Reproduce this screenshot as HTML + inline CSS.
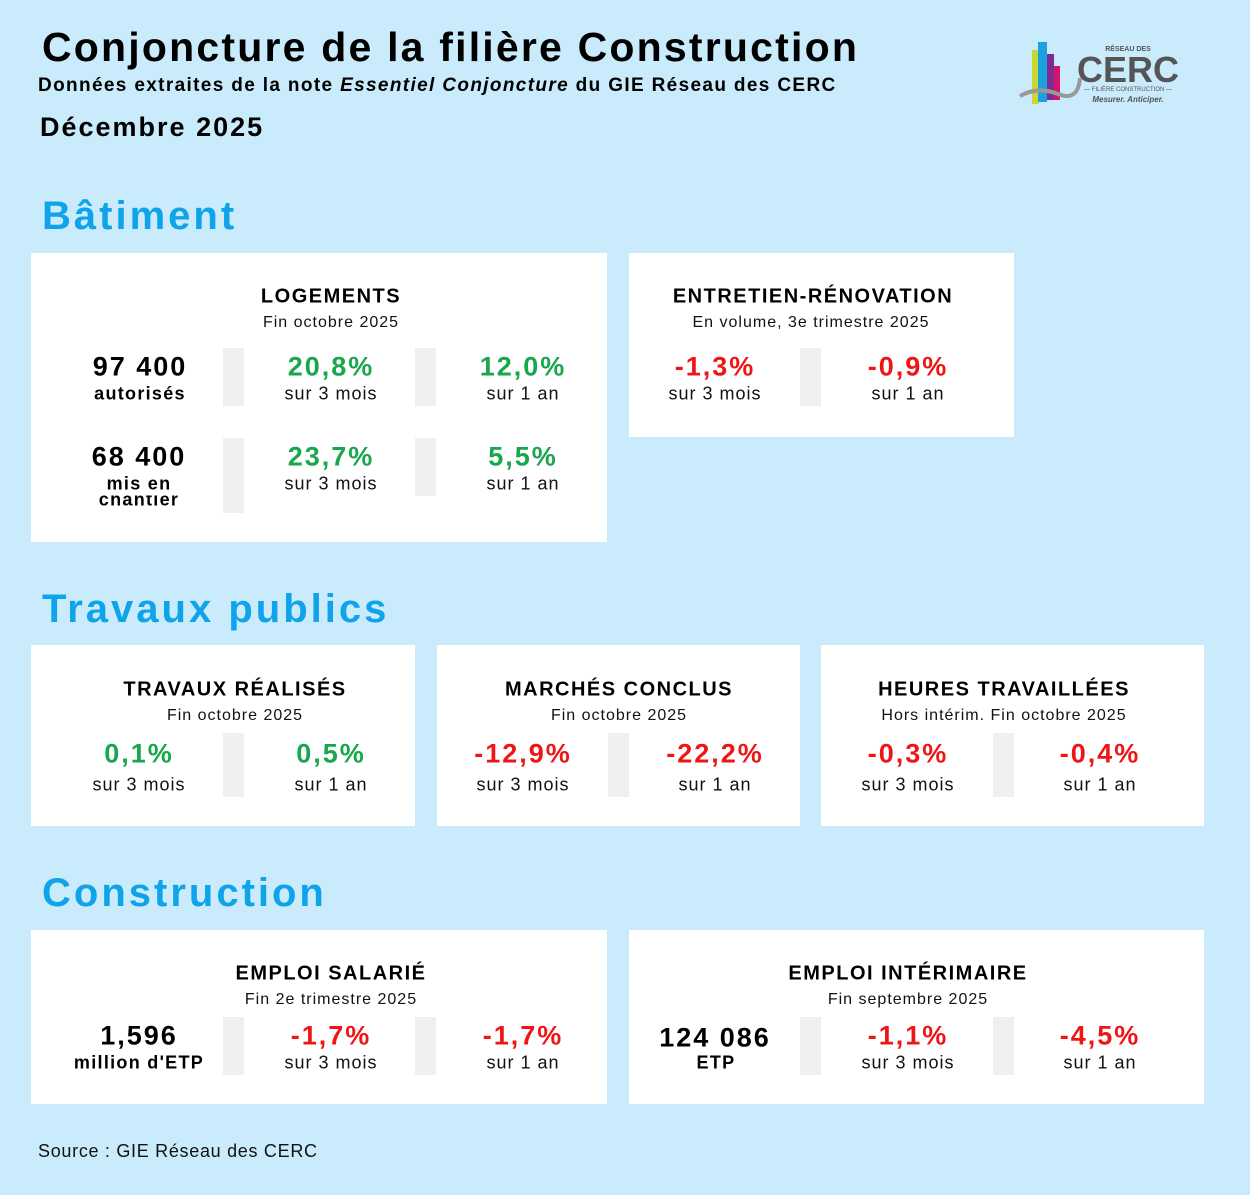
<!DOCTYPE html><html><head><meta charset="utf-8"><style>
body{margin:0;width:1250px;height:1195px;background:#c9ebfb;font-family:"Liberation Sans",sans-serif;position:relative;overflow:hidden}
.a{position:absolute;white-space:nowrap}
.t{position:absolute;white-space:nowrap;transform:translate(-50%,-50%);text-align:center}
.c{position:absolute;background:#fff}
.g{position:absolute;background:#efefef;width:21px}
.h{font-weight:bold;font-size:20px;letter-spacing:1.5px;color:#000}
.s{font-size:16px;color:#111;letter-spacing:1px}
.v{font-weight:bold;font-size:27px;letter-spacing:2px}
.l{font-size:18px;color:#111;letter-spacing:1px}
.k{font-weight:bold;font-size:18px;color:#000;letter-spacing:1.3px}
.gr{color:#19a64d}.rd{color:#f01515}.bk{color:#000}
.sec{position:absolute;left:42px;font-weight:bold;font-size:40px;color:#0fa3ea;letter-spacing:3px}
</style></head><body>
<div class="a" style="left:42px;top:24px;font-weight:bold;font-size:41px;letter-spacing:2.2px">Conjoncture de la filière Construction</div>
<div class="a" style="left:38px;top:75px;font-weight:bold;font-size:19px;letter-spacing:1.35px">Données extraites de la note <i>Essentiel Conjoncture</i> du GIE Réseau des CERC</div>
<div class="a" style="left:40px;top:112px;font-weight:bold;font-size:27px;letter-spacing:2px">Décembre 2025</div>
<svg class="a" style="left:1018px;top:38px" width="160" height="72">
<rect x="14" y="12" width="7" height="54" fill="#c8d82e"/><rect x="20" y="4" width="9" height="60" fill="#1ba0e0"/><rect x="29" y="16" width="7" height="46" fill="#7e2d8f"/><rect x="36" y="28" width="6" height="34" fill="#d3136d"/>
<path d="M2 58 Q20 48 40 56 T62 40" stroke="#999" stroke-width="4" fill="none"/>
<text x="110" y="13" font-size="7" font-weight="bold" fill="#555" text-anchor="middle" font-family="Liberation Sans">RÉSEAU DES</text>
<text x="110" y="44" font-size="36" font-weight="bold" fill="#555" text-anchor="middle" font-family="Liberation Sans">CERC</text>
<text x="110" y="53" font-size="6" fill="#555" text-anchor="middle" font-family="Liberation Sans">— FILIÈRE CONSTRUCTION —</text>
<text x="110" y="64" font-size="8" font-style="italic" font-weight="bold" fill="#555" text-anchor="middle" font-family="Liberation Sans">Mesurer. Anticiper.</text></svg>

<div class="sec" style="top:194px">Bâtiment</div>
<div class="c" style="left:31px;top:253px;width:576px;height:289px"></div>
<div class="c" style="left:629px;top:253px;width:385px;height:184px"></div>
<div class="g" style="left:223px;top:348px;height:58px"></div><div class="g" style="left:415px;top:348px;height:58px"></div>
<div class="g" style="left:223px;top:438px;height:75px"></div><div class="g" style="left:415px;top:438px;height:58px"></div>
<div class="g" style="left:800px;top:348px;height:58px"></div>
<div class="t h" style="left:331px;top:297px">LOGEMENTS</div>
<div class="t s" style="left:331px;top:323px">Fin octobre 2025</div>
<div class="t v bk" style="left:140px;top:367px">97 400</div><div class="t k" style="left:140px;top:394px">autorisés</div>
<div class="t v gr" style="left:331px;top:367px">20,8%</div><div class="t l" style="left:331px;top:394px">sur 3 mois</div>
<div class="t v gr" style="left:523px;top:367px">12,0%</div><div class="t l" style="left:523px;top:394px">sur 1 an</div>
<div class="t v bk" style="left:139px;top:457px">68 400</div><div class="t k" style="left:139px;top:484px">mis en</div>
<div class="t k" style="left:139px;top:500px;clip-path:inset(6px 0 0 0)">chantier</div>
<div class="t v gr" style="left:331px;top:457px">23,7%</div><div class="t l" style="left:331px;top:484px">sur 3 mois</div>
<div class="t v gr" style="left:523px;top:457px">5,5%</div><div class="t l" style="left:523px;top:484px">sur 1 an</div>
<div class="t h" style="left:813px;top:297px">ENTRETIEN-RÉNOVATION</div>
<div class="t s" style="left:811px;top:323px">En volume, 3e trimestre 2025</div>
<div class="t v rd" style="left:715px;top:367px">-1,3%</div><div class="t l" style="left:715px;top:394px">sur 3 mois</div>
<div class="t v rd" style="left:908px;top:367px">-0,9%</div><div class="t l" style="left:908px;top:394px">sur 1 an</div>

<div class="sec" style="top:587px">Travaux publics</div>
<div class="c" style="left:31px;top:645px;width:384px;height:181px"></div>
<div class="c" style="left:437px;top:645px;width:363px;height:181px"></div>
<div class="c" style="left:821px;top:645px;width:383px;height:181px"></div>
<div class="g" style="left:223px;top:733px;height:64px"></div><div class="g" style="left:608px;top:733px;height:64px"></div><div class="g" style="left:993px;top:733px;height:64px"></div>
<div class="t h" style="left:235px;top:690px">TRAVAUX RÉALISÉS</div><div class="t s" style="left:235px;top:716px">Fin octobre 2025</div>
<div class="t v gr" style="left:139px;top:754px">0,1%</div><div class="t l" style="left:139px;top:785px">sur 3 mois</div>
<div class="t v gr" style="left:331px;top:754px">0,5%</div><div class="t l" style="left:331px;top:785px">sur 1 an</div>
<div class="t h" style="left:619px;top:690px">MARCHÉS CONCLUS</div><div class="t s" style="left:619px;top:716px">Fin octobre 2025</div>
<div class="t v rd" style="left:523px;top:754px">-12,9%</div><div class="t l" style="left:523px;top:785px">sur 3 mois</div>
<div class="t v rd" style="left:715px;top:754px">-22,2%</div><div class="t l" style="left:715px;top:785px">sur 1 an</div>
<div class="t h" style="left:1004px;top:690px">HEURES TRAVAILLÉES</div><div class="t s" style="left:1004px;top:716px">Hors intérim. Fin octobre 2025</div>
<div class="t v rd" style="left:908px;top:754px">-0,3%</div><div class="t l" style="left:908px;top:785px">sur 3 mois</div>
<div class="t v rd" style="left:1100px;top:754px">-0,4%</div><div class="t l" style="left:1100px;top:785px">sur 1 an</div>

<div class="sec" style="top:871px">Construction</div>
<div class="c" style="left:31px;top:930px;width:576px;height:174px"></div>
<div class="c" style="left:629px;top:930px;width:575px;height:174px"></div>
<div class="g" style="left:223px;top:1017px;height:58px"></div><div class="g" style="left:415px;top:1017px;height:58px"></div>
<div class="g" style="left:800px;top:1017px;height:58px"></div><div class="g" style="left:993px;top:1017px;height:58px"></div>
<div class="t h" style="left:331px;top:974px">EMPLOI SALARIÉ</div><div class="t s" style="left:331px;top:1000px">Fin 2e trimestre 2025</div>
<div class="t v bk" style="left:139px;top:1036px">1,596</div><div class="t k" style="left:139px;top:1063px">million d'ETP</div>
<div class="t v rd" style="left:331px;top:1036px">-1,7%</div><div class="t l" style="left:331px;top:1063px">sur 3 mois</div>
<div class="t v rd" style="left:523px;top:1036px">-1,7%</div><div class="t l" style="left:523px;top:1063px">sur 1 an</div>
<div class="t h" style="left:908px;top:974px">EMPLOI INTÉRIMAIRE</div><div class="t s" style="left:908px;top:1000px">Fin septembre 2025</div>
<div class="t v bk" style="left:715px;top:1038px">124 086</div><div class="t k" style="left:716px;top:1063px">ETP</div>
<div class="t v rd" style="left:908px;top:1036px">-1,1%</div><div class="t l" style="left:908px;top:1063px">sur 3 mois</div>
<div class="t v rd" style="left:1100px;top:1036px">-4,5%</div><div class="t l" style="left:1100px;top:1063px">sur 1 an</div>

<div class="a" style="left:38px;top:1141px;font-size:18px;color:#111;letter-spacing:0.7px">Source : GIE Réseau des CERC</div>
</body></html>
